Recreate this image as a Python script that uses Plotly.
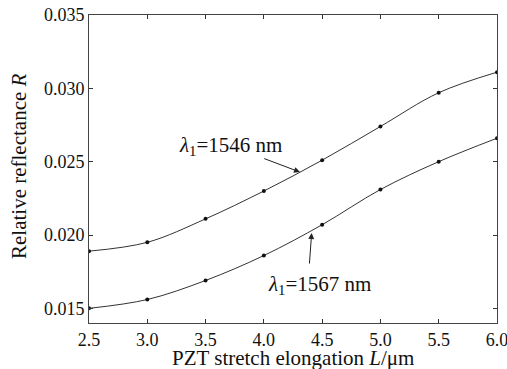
import plotly.graph_objects as go

L = [2.5, 3.0, 3.5, 4.0, 4.5, 5.0, 5.5, 6.0]
R_1546 = [0.0189, 0.0195, 0.0211, 0.0230, 0.0251, 0.0274, 0.0297, 0.0311]
R_1567 = [0.0150, 0.0156, 0.0169, 0.0186, 0.0207, 0.0231, 0.0250, 0.0266]
x_ticks = [2.5, 3.0, 3.5, 4.0, 4.5, 5.0, 5.5, 6.0]
x_ticklabels = ["2.5", "3.0", "3.5", "4.0", "4.5", "5.0", "5.5", "6.0"]
y_ticks = [0.015, 0.020, 0.025, 0.030, 0.035]
y_ticklabels = ["0.015", "0.020", "0.025", "0.030", "0.035"]

FONT = "Liberation Serif, Times New Roman, serif"

plot_l, plot_r, plot_t, plot_b = 89, 497, 15, 323

fig = go.Figure()
for ys in (R_1546, R_1567):
    fig.add_trace(go.Scatter(
        x=L, y=ys, mode="lines+markers",
        line=dict(color="#333333", width=1, shape="spline", smoothing=1.0),
        marker=dict(color="#111111", size=4),
        showlegend=False,
    ))

ann = [
    dict(x=4.31, y=0.02429, ax=3.99, ay=0.02525, xref="x", yref="y", axref="x", ayref="y",
         showarrow=True, arrowhead=2, arrowsize=1.2, arrowwidth=1, arrowcolor="#222", text=""),
    dict(x=4.41, y=0.02013, ax=4.39, ay=0.01795, xref="x", yref="y", axref="x", ayref="y",
         showarrow=True, arrowhead=2, arrowsize=1.2, arrowwidth=1, arrowcolor="#222", text=""),
    dict(x=3.71, y=0.0261, xref="x", yref="y", showarrow=False,
         text="<i>λ</i><sub>1</sub>=1546 nm", font=dict(family=FONT, size=21, color="#111")),
    dict(x=4.48, y=0.01658, xref="x", yref="y", showarrow=False,
         text="<i>λ</i><sub>1</sub>=1567 nm", font=dict(family=FONT, size=21, color="#111")),
    dict(x=0.5, y=-(358 - plot_b) / (plot_b - plot_t), xref="paper", yref="paper",
         xanchor="center", yanchor="middle", showarrow=False,
         text="PZT stretch elongation <i>L</i>/μm", font=dict(family=FONT, size=21, color="#111")),
    dict(x=-(plot_l - 19) / (plot_r - plot_l), y=1 - (166 - plot_t) / (plot_b - plot_t),
         xref="paper", yref="paper", xanchor="center", yanchor="middle",
         showarrow=False, textangle=-90,
         text="Relative reflectance <i>R</i>", font=dict(family=FONT, size=21, color="#111")),
]

fig.update_layout(
    width=507, height=369,
    margin=dict(l=plot_l, r=507 - plot_r, t=plot_t, b=369 - plot_b),
    paper_bgcolor="white", plot_bgcolor="white",
    font=dict(family=FONT, size=18, color="#111"),
    annotations=ann,
    xaxis=dict(range=[2.5, 6.0], tickvals=x_ticks, ticktext=x_ticklabels,
               ticks="inside", ticklen=4, tickcolor="#333", mirror="ticks",
               showline=True, linecolor="#444", linewidth=1, showgrid=False, zeroline=False,
               automargin=False, ticklabeloverflow="allow",
               tickfont=dict(family=FONT, size=18)),
    yaxis=dict(range=[0.014, 0.035], tickvals=y_ticks, ticktext=y_ticklabels,
               ticks="inside", ticklen=4, tickcolor="#333", mirror="ticks",
               showline=True, linecolor="#444", linewidth=1, showgrid=False, zeroline=False,
               automargin=False, ticklabeloverflow="allow",
               tickfont=dict(family=FONT, size=18)),
)

fig.write_html("out.html")
